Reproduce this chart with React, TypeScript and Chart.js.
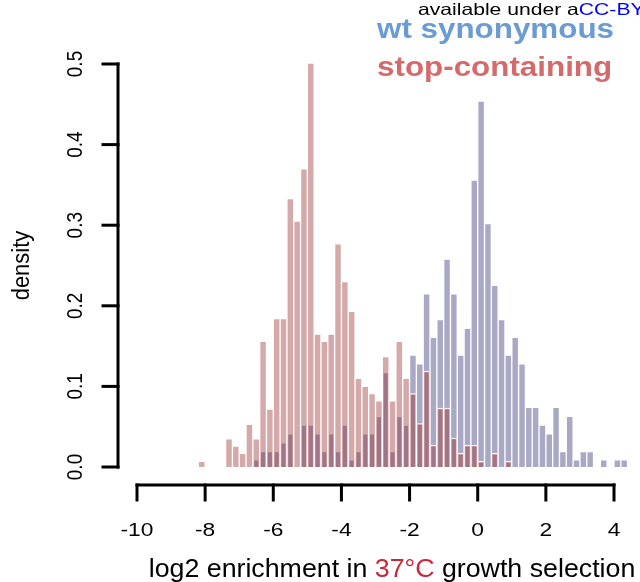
import React, { useEffect, useRef } from "react";
import { Chart, registerables } from "chart.js";
Chart.register(...registerables);

// ---- data (histogram densities, bin width 0.2, bin centres) ----
const binCenters = [
  -8.1, -7.9, -7.7, -7.5, -7.3, -7.1, -6.9, -6.7, -6.5, -6.3, -6.1, -5.9, -5.7, -5.5, -5.3, -5.1,
  -4.9, -4.7, -4.5, -4.3, -4.1, -3.9, -3.7, -3.5, -3.3, -3.1, -2.9, -2.7, -2.5, -2.3, -2.1, -1.9,
  -1.7, -1.5, -1.3, -1.1, -0.9, -0.7, -0.5, -0.3, -0.1, 0.1, 0.3, 0.5, 0.7, 0.9, 1.1, 1.3,
  1.5, 1.7, 1.9, 2.1, 2.3, 2.5, 2.7, 2.9, 3.1, 3.3, 3.5, 3.7, 3.9, 4.1, 4.3,
];
const stopDensity = [
  0.007, 0, 0, 0, 0.035, 0.026, 0.017, 0.053, 0.035, 0.156, 0.072, 0.184, 0.184, 0.333, 0.305, 0.37,
  0.501, 0.165, 0.156, 0.165, 0.277, 0.23, 0.193, 0.11, 0.1, 0.091, 0.082, 0.137, 0.082, 0.156, 0.11, 0.091,
  0.054, 0.119, 0.027, 0.073, 0.073, 0.036, 0.017, 0.027, 0.027, 0.007, 0, 0.017, 0, 0.007, 0, 0,
  0, 0, 0, 0, 0, 0, 0, 0, 0, 0, 0, 0, 0, 0, 0,
];
const synDensity = [
  0, 0, 0, 0, 0, 0, 0, 0, 0.009, 0.019, 0.019, 0.019, 0.03, 0.041, 0, 0.052,
  0.052, 0.041, 0.019, 0.041, 0.019, 0.052, 0.009, 0.019, 0.041, 0.041, 0.0625, 0.117, 0.019, 0.0625, 0.052, 0.139,
  0.128, 0.215, 0.161, 0.183, 0.258, 0.215, 0.139, 0.172, 0.356, 0.454, 0.302, 0.2255, 0.183, 0.139, 0.161, 0.128,
  0.074, 0.074, 0.052, 0.041, 0.074, 0.019, 0.063, 0.009, 0.019, 0.019, 0, 0.009, 0, 0.009, 0.009,
];
const xTicks = [-10, -8, -6, -4, -2, 0, 2, 4];
const xTickLabels = ["-10", "-8", "-6", "-4", "-2", "0", "2", "4"];
const yTicks = [0, 0.1, 0.2, 0.3, 0.4, 0.5];
const yTickLabels = ["0.0", "0.1", "0.2", "0.3", "0.4", "0.5"];
const seriesNames = ["stop-containing", "wt synonymous"];
const xTitleParts = ["log2 enrichment in ", "37°C", " growth selection"];
const yTitle = "density";
const topNoteParts = ["available under a", "CC-BY"];

const FONT = '"Liberation Sans", Arial, Helvetica, sans-serif';

type TxtOpts = {
  font: string;
  color: string;
  align?: CanvasTextAlign;
  baseline?: CanvasTextBaseline;
  sx?: number;
  rotate?: boolean;
};

function drawText(ctx: CanvasRenderingContext2D, text: string, x: number, y: number, o: TxtOpts) {
  ctx.save();
  ctx.translate(x, y);
  ctx.scale(o.sx ?? 1, 1);
  if (o.rotate) ctx.rotate(-Math.PI / 2);
  ctx.font = o.font;
  ctx.fillStyle = o.color;
  ctx.textAlign = o.align ?? "left";
  ctx.textBaseline = o.baseline ?? "alphabetic";
  ctx.fillText(text, 0, 0);
  ctx.restore();
}

function drawParts(
  ctx: CanvasRenderingContext2D,
  parts: string[],
  colors: string[],
  x: number,
  y: number,
  font: string,
  sx: number,
  centered: boolean
) {
  ctx.save();
  ctx.font = font;
  const widths = parts.map((p) => ctx.measureText(p).width * sx);
  ctx.restore();
  const total = widths.reduce((a, b) => a + b, 0);
  let cx = centered ? x - total / 2 : x;
  parts.forEach((p, i) => {
    drawText(ctx, p, cx, y, { font, color: colors[i], sx });
    cx += widths[i];
  });
}

const axesPlugin = {
  id: "rAxes",
  afterDraw(chart: any) {
    const ctx: CanvasRenderingContext2D = chart.ctx;
    const xs = chart.scales.x;
    const ys = chart.scales.y;
    const area = chart.chartArea;
    ctx.save();
    ctx.strokeStyle = "#000";
    ctx.lineWidth = 3;
    ctx.lineCap = "square";

    // x axis (offset below plot like R)
    const xAxisY = area.bottom + 18;
    ctx.beginPath();
    ctx.moveTo(xs.getPixelForValue(xTicks[0]), xAxisY);
    ctx.lineTo(xs.getPixelForValue(xTicks[xTicks.length - 1]), xAxisY);
    ctx.stroke();
    xTicks.forEach((v, i) => {
      const px = xs.getPixelForValue(v);
      ctx.beginPath();
      ctx.moveTo(px, xAxisY);
      ctx.lineTo(px, xAxisY + 15);
      ctx.stroke();
      drawText(ctx, xTickLabels[i], px, xAxisY + 51, {
        font: `19px ${FONT}`,
        color: "#000",
        align: "center",
        sx: 1.2,
      });
    });

    // y axis
    const yAxisX = area.left - 19;
    ctx.beginPath();
    ctx.moveTo(yAxisX, ys.getPixelForValue(yTicks[0]));
    ctx.lineTo(yAxisX, ys.getPixelForValue(yTicks[yTicks.length - 1]));
    ctx.stroke();
    yTicks.forEach((v, i) => {
      const py = ys.getPixelForValue(v);
      ctx.beginPath();
      ctx.moveTo(yAxisX, py);
      ctx.lineTo(yAxisX - 15, py);
      ctx.stroke();
      drawText(ctx, yTickLabels[i], yAxisX - 42, py, {
        font: `19px ${FONT}`,
        color: "#000",
        align: "center",
        baseline: "middle",
        sx: 1.15,
        rotate: true,
      });
    });
    ctx.restore();

    // axis titles
    drawParts(ctx, xTitleParts, ["#000", "#c8283a", "#000"], 392, 577, `25px ${FONT}`, 1.07, true);
    drawText(ctx, yTitle, 22, (ys.getPixelForValue(0) + ys.getPixelForValue(0.5)) / 2, {
      font: `22px ${FONT}`,
      color: "#000",
      align: "center",
      baseline: "middle",
      sx: 1.1,
      rotate: true,
    });

    // legend texts
    drawText(ctx, seriesNames[1], 377, 38, { font: `bold 28px ${FONT}`, color: "#6a9bd2", sx: 1.12 });
    drawText(ctx, seriesNames[0], 377, 76, { font: `bold 28px ${FONT}`, color: "#d46a6a", sx: 1.12 });

    // top note
    drawParts(ctx, topNoteParts, ["#000", "#0000ff"], 418, 15, `16.5px ${FONT}`, 1.28, false);
  },
};

export default function App() {
  const ref = useRef<HTMLCanvasElement | null>(null);
  useEffect(() => {
    if (!ref.current) return;
    const chart = new Chart(ref.current, {
      type: "bar",
      data: {
        datasets: [
          {
            label: seriesNames[0],
            data: binCenters.map((x, i) => ({ x, y: stopDensity[i] })),
            backgroundColor: "rgba(150, 40, 40, 0.4)",
            borderColor: "#ffffff",
            borderWidth: 1,
            borderSkipped: "start",
            grouped: false,
            barPercentage: 1,
            categoryPercentage: 1,
            clip: false,
          } as any,
          {
            label: seriesNames[1],
            data: binCenters.map((x, i) => ({ x, y: synDensity[i] })),
            backgroundColor: "rgba(40, 40, 110, 0.4)",
            borderColor: "#ffffff",
            borderWidth: 1,
            borderSkipped: "start",
            grouped: false,
            barPercentage: 1,
            categoryPercentage: 1,
            clip: false,
          } as any,
        ],
      },
      options: {
        animation: false,
        responsive: false,
        devicePixelRatio: 1,
        layout: { padding: { left: 137, right: 26, top: 64, bottom: 115 } },
        plugins: { legend: { display: false }, tooltip: { enabled: false } },
        scales: {
          x: { type: "linear", min: -10, max: 4, offset: false, display: false },
          y: { type: "linear", min: 0, max: 0.5, display: false },
        },
      },
      plugins: [axesPlugin],
    });
    return () => chart.destroy();
  }, []);
  return (
    <div style={{ position: "absolute", left: 0, top: 0, width: 640, height: 582, background: "#fff" }}>
      <canvas ref={ref} width={640} height={582} />
    </div>
  );
}
